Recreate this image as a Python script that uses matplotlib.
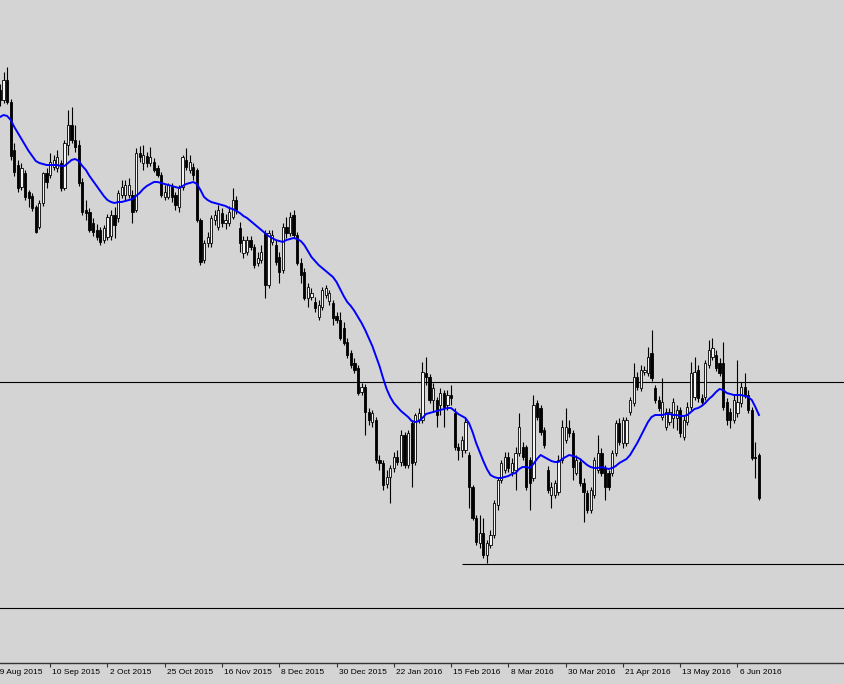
import numpy as np
import matplotlib
matplotlib.use("Agg")
from matplotlib import pyplot as plt
from matplotlib.transforms import blended_transform_factory

# daily candles, index 0 = first bar on screen
opens = [610, 600, 620, 598, 550, 535, 513, 527, 508, 504, 493, 473, 497, 527, 525, 533, 532, 537, 512, 555,
         575, 560, 555, 518, 490, 488, 477, 470, 470, 460, 463, 464, 485, 482, 505, 505, 505, 505, 490, 547,
         537, 544, 537, 538, 532, 525, 503, 503, 513, 505, 493, 513, 540, 530, 533, 530, 480, 440, 457, 457,
         480, 473, 487, 477, 477, 483, 500, 472, 447, 448, 460, 453, 437, 440, 467, 415, 458, 455, 443, 430,
         473, 467, 485, 465, 437, 428, 402, 403, 398, 383, 393, 405, 399, 397, 384, 380, 372, 358, 347, 337,
         332, 308, 313, 288, 278, 280, 240, 237, 216, 223, 232, 243, 238, 265, 235, 277, 238, 280, 280, 327,
         323, 300, 300, 295, 307, 295, 305, 287, 253, 250, 250, 245, 213, 182, 157, 167, 145, 155, 165, 195,
         220, 230, 243, 228, 230, 247, 253, 253, 240, 222, 297, 292, 270, 230, 205, 205, 208, 240, 260, 272,
         267, 227, 238, 217, 207, 190, 205, 230, 247, 232, 227, 227, 247, 277, 257, 257, 288, 297, 323, 312,
         328, 327, 347, 312, 300, 283, 273, 278, 282, 282, 290, 263, 278, 293, 303, 330, 302, 303, 335, 343,
         345, 337, 337, 298, 288, 280, 287, 297, 313, 305, 290, 243, 245]
highs = [616, 628, 633, 601, 557, 540, 537, 530, 510, 507, 495, 500, 528, 532, 547, 545, 550, 540, 560, 590,
         593, 575, 560, 522, 500, 492, 482, 476, 473, 475, 486, 490, 493, 510, 520, 520, 522, 510, 552, 554,
         555, 548, 553, 542, 535, 528, 515, 517, 517, 508, 515, 545, 552, 545, 537, 532, 482, 460, 468, 485,
         490, 495, 492, 486, 494, 512, 504, 478, 464, 464, 464, 456, 448, 455, 470, 470, 470, 460, 448, 477,
         483, 488, 490, 468, 442, 432, 417, 412, 403, 400, 413, 415, 410, 400, 388, 388, 378, 362, 350, 342,
         335, 317, 316, 292, 290, 283, 245, 240, 230, 235, 248, 250, 270, 268, 270, 280, 287, 292, 338, 343,
         326, 317, 303, 312, 310, 310, 315, 292, 257, 264, 282, 248, 215, 185, 185, 182, 160, 170, 200, 222,
         240, 248, 248, 242, 253, 287, 258, 255, 243, 305, 300, 295, 273, 234, 218, 220, 245, 280, 292, 280,
         270, 245, 242, 222, 210, 213, 243, 265, 252, 235, 230, 250, 280, 282, 283, 283, 303, 337, 328, 335,
         334, 353, 370, 315, 304, 322, 292, 292, 302, 295, 293, 285, 298, 338, 343, 335, 306, 340, 360, 362,
         350, 342, 358, 302, 292, 305, 340, 318, 327, 310, 293, 258, 247]
lows = [594, 597, 596, 540, 524, 508, 510, 500, 493, 489, 467, 471, 494, 512, 522, 530, 528, 509, 510, 545,
        557, 548, 514, 485, 480, 468, 464, 460, 455, 457, 460, 460, 462, 478, 502, 500, 502, 477, 488, 538,
        530, 533, 534, 528, 523, 503, 500, 501, 498, 490, 488, 510, 530, 527, 520, 478, 435, 437, 453, 453,
        475, 470, 473, 471, 474, 481, 486, 448, 442, 445, 450, 432, 434, 437, 402, 412, 455, 435, 417, 427,
        462, 464, 462, 435, 417, 400, 393, 400, 388, 380, 390, 402, 395, 375, 377, 360, 355, 342, 332, 327,
        305, 305, 265, 275, 273, 237, 230, 210, 212, 197, 228, 235, 234, 232, 232, 213, 235, 277, 277, 315,
        297, 288, 273, 285, 273, 290, 295, 250, 240, 243, 247, 192, 180, 155, 152, 142, 137, 152, 162, 190,
        217, 227, 228, 224, 210, 244, 240, 210, 190, 219, 280, 265, 252, 207, 192, 202, 205, 237, 257, 263,
        220, 225, 214, 178, 187, 187, 202, 227, 224, 200, 210, 224, 244, 255, 252, 254, 285, 294, 310, 309,
        325, 324, 319, 297, 289, 280, 270, 275, 272, 270, 263, 260, 275, 290, 300, 298, 295, 300, 332, 340,
        329, 324, 290, 275, 272, 277, 283, 293, 302, 287, 240, 222, 200]
closes = [600, 620, 598, 544, 528, 512, 532, 503, 502, 492, 468, 497, 527, 518, 538, 540, 543, 512, 557, 575,
          560, 553, 517, 488, 487, 470, 468, 463, 458, 472, 483, 485, 475, 507, 513, 515, 515, 488, 547, 543,
          545, 537, 543, 530, 525, 505, 508, 515, 503, 495, 512, 543, 533, 538, 525, 480, 438, 457, 463, 482,
          485, 490, 477, 480, 488, 500, 490, 457, 460, 460, 453, 435, 442, 448, 415, 467, 465, 438, 428, 473,
          467, 483, 465, 437, 425, 402, 413, 407, 392, 395, 410, 412, 407, 382, 380, 362, 357, 345, 335, 330,
          307, 313, 288, 280, 287, 240, 237, 215, 223, 232, 243, 238, 265, 235, 267, 237, 285, 287, 328, 323,
          300, 312, 285, 307, 293, 305, 302, 253, 250, 260, 278, 213, 182, 158, 167, 145, 157, 165, 197, 220,
          237, 243, 232, 237, 247, 273, 243, 213, 217, 295, 283, 268, 255, 210, 213, 217, 240, 273, 273, 267,
          233, 240, 217, 208, 190, 210, 240, 247, 227, 213, 213, 247, 277, 258, 280, 280, 300, 323, 313, 330,
          330, 343, 322, 300, 292, 298, 288, 288, 298, 290, 267, 280, 293, 327, 328, 302, 298, 337, 350, 352,
          332, 327, 293, 280, 280, 300, 298, 313, 305, 290, 242, 242, 202]

# moving average as drawn on the chart
ma = [583, 585, 584, 580, 573, 567, 561, 555, 549, 544, 539, 537, 536, 535, 535, 535, 535, 534, 534, 537,
      540, 541, 539, 534, 530, 524, 519, 514, 509, 504, 500, 498, 497, 498, 498, 499, 500, 501, 504, 507,
      511, 514, 516, 518, 518, 517, 516, 515, 514, 513, 512, 514, 516, 517, 518, 516, 510, 503, 500, 498,
      497, 496, 495, 494, 492, 491, 489, 487, 484, 482, 479, 476, 473, 470, 467, 464, 462, 460, 459, 458,
      460, 461, 462, 461, 459, 455, 449, 443, 439, 435, 432, 429, 426, 423, 418, 411, 404, 398, 394, 389,
      383, 377, 370, 362, 354, 344, 334, 322, 311, 303, 297, 293, 289, 286, 283, 279, 278, 279, 282, 286,
      287, 288, 289, 290, 291, 292, 292, 289, 286, 284, 282, 277, 268, 257, 248, 239, 231, 225, 223, 222,
      222, 223, 224, 226, 227, 231, 233, 233, 232, 236, 241, 245, 243, 241, 239, 238, 238, 241, 243, 245,
      244, 243, 241, 238, 235, 233, 232, 232, 233, 232, 231, 232, 234, 237, 239, 241, 245, 251, 257, 264,
      271, 278, 283, 285, 285, 285, 286, 286, 285, 285, 284, 284, 285, 288, 291, 292, 294, 297, 301, 304,
      308, 311, 310, 307, 306, 305, 305, 305, 304, 303, 300, 293, 285]

levels = [318, 92]          # full-width horizontal lines
support = 136               # line drawn from the Feb low onwards
support_from = 129

tick_labels = ['19 Aug 2015', '10 Sep 2015', '2 Oct 2015', '25 Oct 2015', '16 Nov 2015', '8 Dec 2015',
               '30 Dec 2015', '22 Jan 2016', '15 Feb 2016', '8 Mar 2016', '30 Mar 2016', '21 Apr 2016',
               '13 May 2016', '6 Jun 2016']
tick_pos = [-2 + 16 * k for k in range(len(tick_labels))]

bg = '#d4d4d4'
fig = plt.figure(figsize=(8.45, 6.84), dpi=100, facecolor=bg)
ax = fig.add_axes([0, 21 / 684, 1, 663 / 684], facecolor=bg)

o = np.array(opens, float)
h = np.array(highs, float)
l = np.array(lows, float)
c = np.array(closes, float)
x = np.arange(len(c))
up = c >= o

ax.vlines(x, l, h, color='black', linewidth=0.8, zorder=2)
bottom = np.minimum(o, c)
height = np.maximum(np.abs(c - o), 0.8)
ax.bar(x[up], height[up], bottom=bottom[up], width=0.62, facecolor='#f4f4f4',
       edgecolor='black', linewidth=0.6, zorder=3)
ax.bar(x[~up], height[~up], bottom=bottom[~up], width=0.62, facecolor='black',
       edgecolor='black', linewidth=0.6, zorder=3)

ax.plot(x, ma, color='#0000ff', linewidth=1.4, zorder=4)

for lv in levels:
    ax.axhline(lv, color='black', linewidth=0.8, zorder=1)
ax.hlines(support, support_from, 240, color='black', linewidth=0.8, zorder=1)

for s in ['top', 'right', 'left']:
    ax.spines[s].set_visible(False)
ax.spines['bottom'].set_color('#333333')
ax.spines['bottom'].set_linewidth(1.0)
ax.set_yticks([])
ax.set_xticks(tick_pos)
ax.set_xticklabels([])
ax.tick_params(axis='x', direction='out', length=3, width=0.8, color='#333333')

# limits after ticks, so the off-screen first tick does not widen the view
ax.set_xlim(0, 845 / 3.58)
ax.set_ylim(37, 700)

trans = blended_transform_factory(ax.transData, ax.transAxes)
for p, lab in zip(tick_pos, tick_labels):
    ax.text(p + 0.6, -0.009, lab, transform=trans, ha='left', va='top',
            fontsize=6.0, family='Liberation Sans', color='black', clip_on=False)

fig.savefig('out.png', dpi=100, facecolor=bg)
